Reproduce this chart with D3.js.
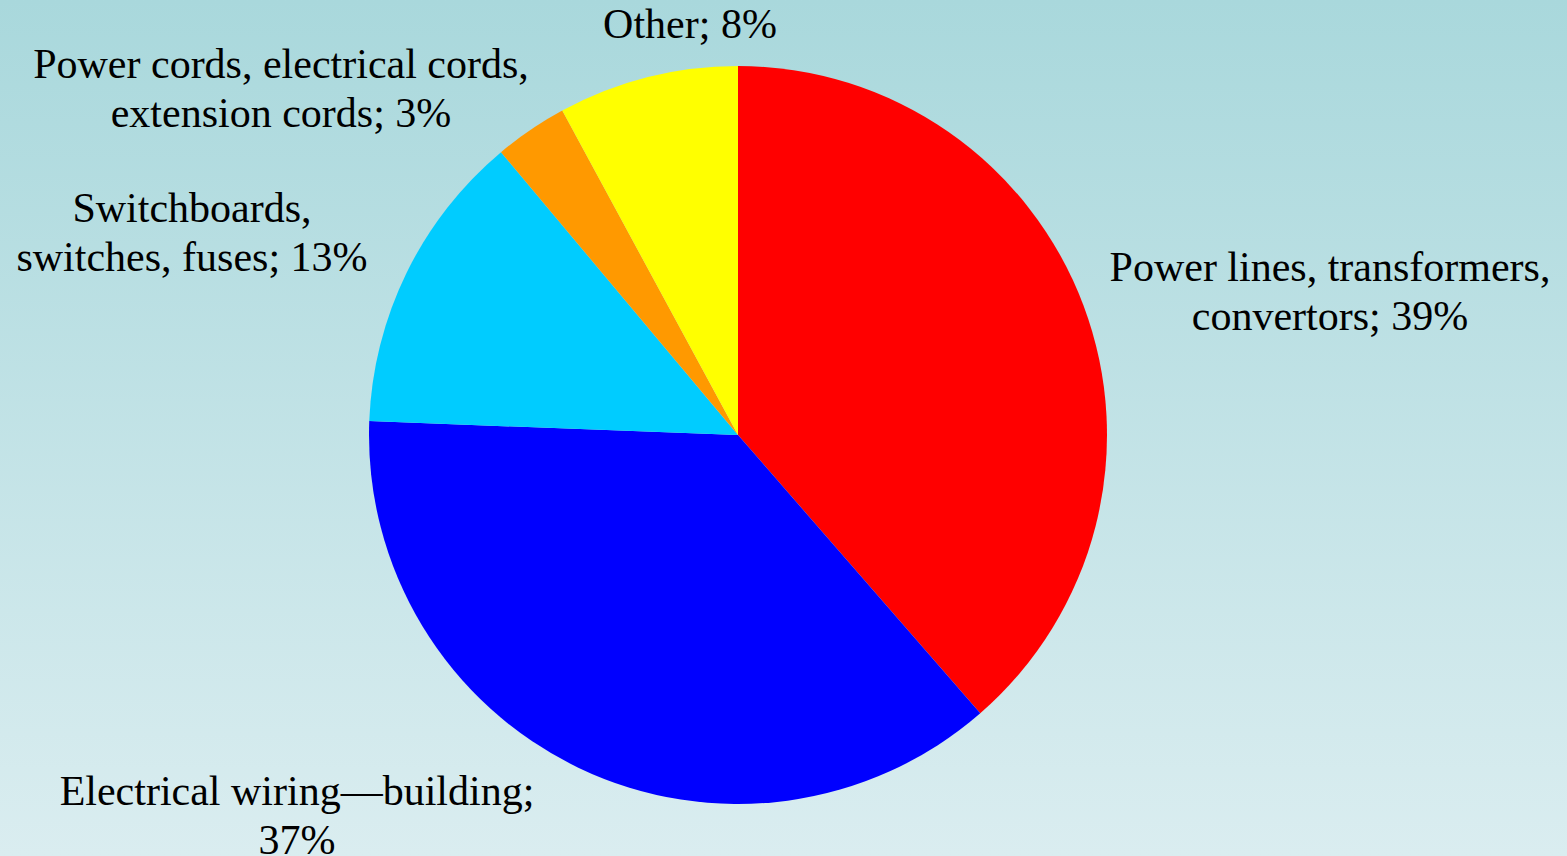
<!DOCTYPE html>
<html>
<head>
<meta charset="utf-8">
<script src="https://cdn.jsdelivr.net/npm/d3@7"></script>
<style>
html,body{margin:0;padding:0;overflow:hidden;}
svg{display:block;}
.lbl{font-family:"Liberation Serif","Times New Roman",Times,Tinos,"Nimbus Roman","DejaVu Serif",serif;font-size:42px;fill:#000;}
</style>
</head>
<body>
<svg id="chart" width="1567" height="856"></svg>
<script>
const categories = [
  "Power lines, transformers, convertors",
  "Electrical wiring\u2014building",
  "Switchboards, switches, fuses",
  "Power cords, electrical cords, extension cords",
  "Other"
];
const values = [38.6, 37.0, 13.3, 3.2, 7.9];
const percentLabels = ["39%", "37%", "13%", "3%", "8%"];
const colors = ["#ff0000", "#0000ff", "#00ccff", "#ff9900", "#ffff00"];
const labelLines = [
  ["Power lines, transformers,", "convertors; 39%"],
  ["Electrical wiring\u2014building;", "37%"],
  ["Switchboards,", "switches, fuses; 13%"],
  ["Power cords, electrical cords,", "extension cords; 3%"],
  ["Other; 8%"]
];
const labelPos = [[1330, 281], [297, 805], [192, 222], [281, 78], [690, 38]];

const W = 1567, H = 856;
const svg = d3.select("#chart");
const defs = svg.append("defs");
const grad = defs.append("linearGradient").attr("id", "bg")
  .attr("x1", 0).attr("y1", 0).attr("x2", 0).attr("y2", 1);
grad.append("stop").attr("offset", "0%").attr("stop-color", "#a9d8dc");
grad.append("stop").attr("offset", "100%").attr("stop-color", "#daedf0");
svg.append("rect").attr("width", W).attr("height", H).attr("fill", "url(#bg)");

const cx = 738, cy = 435, r = 369;
const pie = d3.pie().sort(null).value(d => d);
const arc = d3.arc().innerRadius(0).outerRadius(r);
const g = svg.append("g").attr("transform", `translate(${cx},${cy})`);
g.selectAll("path").data(pie(values)).join("path")
  .attr("d", arc)
  .attr("fill", (d, i) => colors[i]);

const lg = svg.append("g").attr("text-anchor", "middle");
labelLines.forEach((lines, i) => {
  const t = lg.append("text").attr("class", "lbl").attr("x", labelPos[i][0]).attr("y", labelPos[i][1]);
  lines.forEach((ln, j) => {
    t.append("tspan").attr("x", labelPos[i][0]).attr("dy", j === 0 ? 0 : 49).text(ln);
  });
});
</script>
</body>
</html>
